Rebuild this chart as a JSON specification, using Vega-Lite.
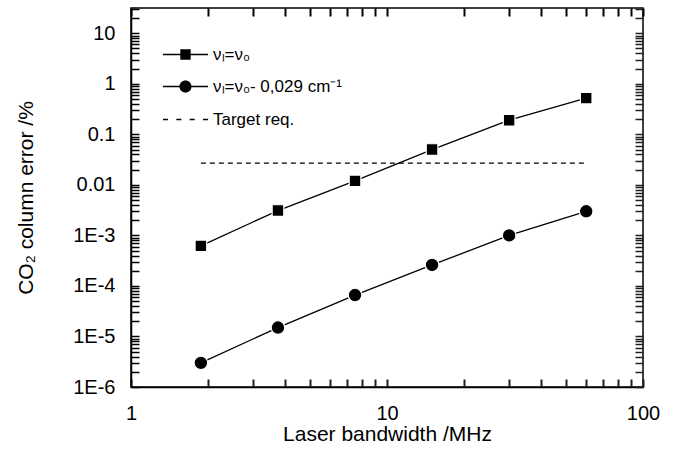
{
  "$schema": "https://vega.github.io/schema/vega-lite/v6.json",
  "width": 512,
  "height": 379,
  "autosize": {"type": "none"},
  "padding": {"left": 131, "top": 8, "right": 35, "bottom": 68},
  "background": "white",
  "config": {
    "font": "Liberation Sans",
    "view": {"stroke": "black", "strokeWidth": 1.5},
    "axis": {
      "grid": false,
      "domainColor": "black",
      "domainWidth": 1.5,
      "labelColor": "black",
      "titleColor": "black",
      "labelFont": "Liberation Sans",
      "titleFont": "Liberation Sans",
      "labelFontSize": 20,
      "titleFontSize": 21,
      "titleFontWeight": "normal",
      "labelFlush": false,
      "labelOverlap": false
    }
  },
  "data": {
    "values": [
      {"bandwidth": 1.875, "error": 0.00062, "series": "νₗ=ν₀"},
      {"bandwidth": 3.75, "error": 0.0031, "series": "νₗ=ν₀"},
      {"bandwidth": 7.5, "error": 0.012, "series": "νₗ=ν₀"},
      {"bandwidth": 15, "error": 0.05, "series": "νₗ=ν₀"},
      {"bandwidth": 30, "error": 0.19, "series": "νₗ=ν₀"},
      {"bandwidth": 60, "error": 0.52, "series": "νₗ=ν₀"},
      {"bandwidth": 1.875, "error": 0.000003, "series": "νₗ=ν₀- 0,029 cm⁻¹"},
      {"bandwidth": 3.75, "error": 0.000015, "series": "νₗ=ν₀- 0,029 cm⁻¹"},
      {"bandwidth": 7.5, "error": 0.000066, "series": "νₗ=ν₀- 0,029 cm⁻¹"},
      {"bandwidth": 15, "error": 0.00026, "series": "νₗ=ν₀- 0,029 cm⁻¹"},
      {"bandwidth": 30, "error": 0.001, "series": "νₗ=ν₀- 0,029 cm⁻¹"},
      {"bandwidth": 60, "error": 0.003, "series": "νₗ=ν₀- 0,029 cm⁻¹"},
      {"bandwidth": 1.875, "error": 0.027, "series": "Target req."},
      {"bandwidth": 60, "error": 0.027, "series": "Target req."}
    ]
  },
  "resolve": {"axis": {"x": "independent", "y": "independent"}},
  "layer": [
    {
      "transform": [{"filter": "datum.series !== 'Target req.'"}],
      "mark": {"type": "line", "color": "black", "strokeWidth": 1.3},
      "encoding": {
        "x": {
          "field": "bandwidth", "type": "quantitative",
          "scale": {"type": "log", "domain": [1, 100], "nice": false},
          "axis": {
            "orient": "bottom",
            "title": "Laser bandwidth /MHz",
            "values": [1,2,3,4,5,6,7,8,9,10,20,30,40,50,60,70,80,90,100],
            "labelExpr": "abs(log(datum.value)/LN10 - round(log(datum.value)/LN10)) < 1e-6 ? format(datum.value, '~g') : ''",
            "ticks": true, "tickColor": "#1e1e1e", "tickWidth": 2, "tickSize": -8,
            "labelPadding": 24.5,
            "titlePadding": 0
          }
        },
        "y": {
          "field": "error", "type": "quantitative",
          "scale": {"type": "log", "domain": [0.000001, 31.6], "nice": false},
          "axis": {
            "orient": "left",
            "title": "CO₂ column error /%",
            "values": [0.000001,0.000002,0.000003,0.000004,0.000005,0.000006,0.000007,0.000008,0.000009,
                       0.00001,0.00002,0.00003,0.00004,0.00005,0.00006,0.00007,0.00008,0.00009,
                       0.0001,0.0002,0.0003,0.0004,0.0005,0.0006,0.0007,0.0008,0.0009,
                       0.001,0.002,0.003,0.004,0.005,0.006,0.007,0.008,0.009,
                       0.01,0.02,0.03,0.04,0.05,0.06,0.07,0.08,0.09,
                       0.1,0.2,0.3,0.4,0.5,0.6,0.7,0.8,0.9,
                       1,2,3,4,5,6,7,8,9,10,20,30],
            "labelExpr": "abs(log(datum.value)/LN10 - round(log(datum.value)/LN10)) < 1e-6 ? (datum.value >= 0.01 ? format(datum.value, '~g') : '1E' + round(log(datum.value)/LN10)) : ''",
            "ticks": true, "tickColor": "black", "tickWidth": 1.5, "tickSize": -8,
            "labelPadding": 24,
            "titlePadding": 36
          }
        },
        "detail": {"field": "series", "type": "nominal"}
      }
    },
    {
      "transform": [{"filter": "datum.series === 'Target req.'"}],
      "mark": {"type": "line", "color": "black", "strokeWidth": 1.2, "strokeDash": [5, 4]},
      "encoding": {
        "x": {
          "field": "bandwidth", "type": "quantitative",
          "axis": {
            "orient": "top", "title": null, "labels": false, "domain": false,
            "values": [1,2,3,4,5,6,7,8,9,10,20,30,40,50,60,70,80,90,100],
            "ticks": true, "tickColor": "black", "tickWidth": 2, "tickSize": 8, "offset": -8
          }
        },
        "y": {
          "field": "error", "type": "quantitative",
          "axis": {
            "orient": "right", "title": null, "labels": false, "domain": false,
            "values": [0.000001,0.000002,0.000003,0.000004,0.000005,0.000006,0.000007,0.000008,0.000009,
                       0.00001,0.00002,0.00003,0.00004,0.00005,0.00006,0.00007,0.00008,0.00009,
                       0.0001,0.0002,0.0003,0.0004,0.0005,0.0006,0.0007,0.0008,0.0009,
                       0.001,0.002,0.003,0.004,0.005,0.006,0.007,0.008,0.009,
                       0.01,0.02,0.03,0.04,0.05,0.06,0.07,0.08,0.09,
                       0.1,0.2,0.3,0.4,0.5,0.6,0.7,0.8,0.9,
                       1,2,3,4,5,6,7,8,9,10,20,30],
            "ticks": true, "tickColor": "#1e1e1e", "tickWidth": 1.5, "tickSize": -8
          }
        }
      }
    },
    {
      "transform": [{"filter": "datum.series === 'νₗ=ν₀'"}],
      "mark": {"type": "point", "shape": "square", "filled": true, "fill": "black", "opacity": 1, "size": 135, "stroke": "white", "strokeWidth": 1.2},
      "encoding": {
        "x": {"field": "bandwidth", "type": "quantitative", "axis": null},
        "y": {"field": "error", "type": "quantitative", "axis": null}
      }
    },
    {
      "transform": [{"filter": "datum.series === 'νₗ=ν₀- 0,029 cm⁻¹'"}],
      "mark": {"type": "point", "shape": "circle", "filled": true, "fill": "black", "opacity": 1, "size": 185, "stroke": "white", "strokeWidth": 1.2},
      "encoding": {
        "x": {"field": "bandwidth", "type": "quantitative", "axis": null},
        "y": {"field": "error", "type": "quantitative", "axis": null}
      }
    },
    {
      "mark": {"type": "point", "filled": true, "fill": "black", "opacity": 0},
      "encoding": {
        "x": {"field": "bandwidth", "type": "quantitative", "axis": null},
        "y": {"field": "error", "type": "quantitative", "axis": null},
        "shape": {
          "field": "series", "type": "nominal",
          "scale": {
            "domain": ["νₗ=ν₀", "νₗ=ν₀- 0,029 cm⁻¹", "Target req."],
            "range": [
              "M-1,-0.03H-0.23V0.03H-1ZM0.23,-0.03H1V0.03H0.23ZM-0.23,-0.23H0.23V0.23H-0.23Z",
              "M-1,-0.03H-0.27V0.03H-1ZM0.27,-0.03H1V0.03H0.27ZM-0.27,0A0.27,0.27,0,1,0,0.27,0A0.27,0.27,0,1,0,-0.27,0Z",
              "M-1,-0.03H-0.78V0.03H-1ZM-0.407,-0.03H-0.187V0.03H-0.407ZM0.187,-0.03H0.407V0.03H0.187ZM0.78,-0.03H1V0.03H0.78Z"
            ]
          },
          "legend": {
            "orient": "none",
            "legendX": 31,
            "legendY": 23,
            "title": null,
            "padding": 0,
            "symbolSize": 2025,
            "symbolFillColor": "black",
            "symbolOpacity": 1,
            "labelFontSize": 17,
            "labelFont": "Liberation Sans",
            "labelColor": "black",
            "labelOffset": 4,
            "rowPadding": 0
          }
        }
      }
    }
  ]
}
